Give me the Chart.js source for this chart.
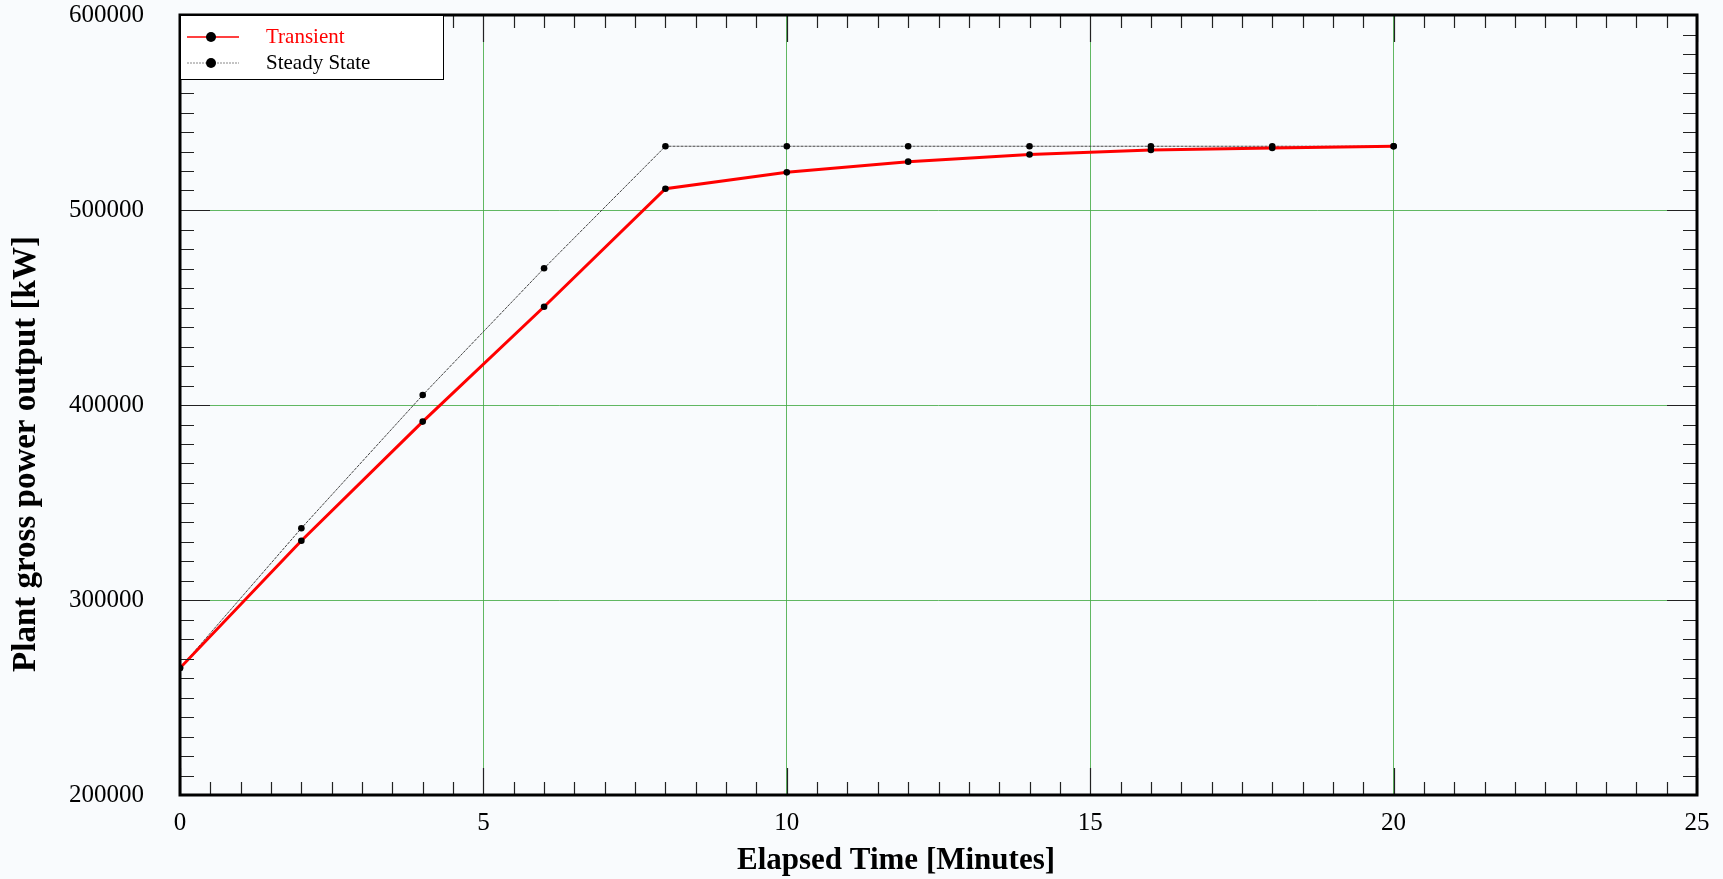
<!DOCTYPE html>
<html>
<head>
<meta charset="utf-8">
<script src="https://cdn.jsdelivr.net/npm/chart.js@4.4.1/dist/chart.umd.min.js"></script>
<style>
  html, body { margin: 0; padding: 0; background: #f9fbfd; }
  #wrap { width: 1723px; height: 879px; position: relative; }
</style>
</head>
<body>
<div id="wrap"><canvas id="powerChart"></canvas></div>
<script>
// Valores
const timeMin = [0, 2, 4, 6, 8, 10, 12, 14, 16, 18, 20];
const transientKW = [265100, 330400, 391500, 450400, 510900, 519300, 524800, 528500, 530800, 531800, 532700];
const steadyKW = [265100, 336800, 405100, 470100, 532700, 532700, 532700, 532700, 532700, 532700, 532700];

const xTicks = [0, 5, 10, 15, 20, 25];
const yTicks = [200000, 300000, 400000, 500000, 600000];

const seriesNames = ['Transient', 'Steady State'];
const xTitle = 'Elapsed Time [Minutes]';
const yTitle = 'Plant gross power output [kW]';

const SERIF = "'Liberation Serif', 'DejaVu Serif', serif";
const GRID_GREEN = 'rgba(70, 170, 70, 0.85)';

const toPoints = (ys) => timeMin.map((t, i) => ({ x: t, y: ys[i] }));

// Marco, marcas interiores, títulos y leyenda
const framePlugin = {
    id: 'frame',
    beforeDraw(chart) {
        const ctx = chart.ctx;
        ctx.save();
        ctx.fillStyle = '#f9fbfd';
        ctx.fillRect(0, 0, chart.width, chart.height);
        ctx.restore();
    },
    afterDraw(chart) {
        const ctx = chart.ctx;
        const area = chart.chartArea;
        const xs = chart.scales.x;
        const ys = chart.scales.y;
        ctx.save();

        // marcas menores y mayores en los cuatro lados
        ctx.strokeStyle = '#222';
        ctx.lineWidth = 1.2;
        ctx.beginPath();
        for (let v = 0; v <= 25.001; v += 0.5) {
            const px = Math.round(xs.getPixelForValue(v)) + 0.5;
            const len = (Math.abs(v % 5) < 0.01) ? 27 : 13;
            ctx.moveTo(px, area.bottom);
            ctx.lineTo(px, area.bottom - len);
            ctx.moveTo(px, area.top);
            ctx.lineTo(px, area.top + len);
        }
        for (let v = 200000; v <= 600000; v += 10000) {
            const py = Math.round(ys.getPixelForValue(v)) + 0.5;
            const len = (v % 100000 === 0) ? 30 : 14;
            ctx.moveTo(area.left, py);
            ctx.lineTo(area.left + len, py);
            ctx.moveTo(area.right, py);
            ctx.lineTo(area.right - len, py);
        }
        ctx.stroke();

        // borde grueso
        ctx.strokeStyle = '#000';
        ctx.lineWidth = 3;
        ctx.strokeRect(area.left, area.top, area.right - area.left, area.bottom - area.top);

        // títulos de los ejes
        ctx.fillStyle = '#000';
        ctx.font = 'bold 31px ' + SERIF;
        ctx.textAlign = 'center';
        ctx.textBaseline = 'middle';
        ctx.fillText(xTitle, 896, 861);
        ctx.save();
        ctx.translate(26, 454);
        ctx.rotate(-Math.PI / 2);
        ctx.font = 'bold 33px ' + SERIF;
        ctx.fillText(yTitle, 0, 0);
        ctx.restore();

        // leyenda
        const lx = area.left, ly = area.top;
        ctx.fillStyle = '#fff';
        ctx.fillRect(lx, ly, 263, 64);
        ctx.strokeStyle = '#000';
        ctx.lineWidth = 1;
        ctx.strokeRect(lx + 0.5, ly + 0.5, 263, 64);

        const rows = [
            { y: ly + 22, color: '#ff0000', text: '#ff0000', dash: [], width: 1.5 },
            { y: ly + 48, color: '#888', text: '#000', dash: [2, 1], width: 1 }
        ];
        rows.forEach((r, i) => {
            ctx.strokeStyle = r.color;
            ctx.lineWidth = r.width;
            ctx.setLineDash(r.dash);
            ctx.beginPath();
            ctx.moveTo(lx + 7, r.y);
            ctx.lineTo(lx + 59, r.y);
            ctx.stroke();
            ctx.setLineDash([]);
            ctx.fillStyle = '#000';
            ctx.beginPath();
            ctx.arc(lx + 31, r.y, 5, 0, Math.PI * 2);
            ctx.fill();
            ctx.fillStyle = r.text;
            ctx.font = '21px ' + SERIF;
            ctx.textAlign = 'left';
            ctx.textBaseline = 'middle';
            ctx.fillText(seriesNames[i], lx + 86, r.y);
        });

        ctx.restore();
    }
};

const ctx = document.getElementById('powerChart').getContext('2d');
new Chart(ctx, {
    type: 'line',
    data: {
        datasets: [
            {
                label: seriesNames[0],
                data: toPoints(transientKW),
                borderColor: '#ff0000',
                borderWidth: 3,
                pointBackgroundColor: '#000',
                pointBorderColor: '#000',
                pointRadius: 3.3,
                pointBorderWidth: 0,
                tension: 0,
                fill: false
            },
            {
                label: seriesNames[1],
                data: toPoints(steadyKW),
                borderColor: '#444',
                borderWidth: 1,
                borderDash: [3, 1],
                pointBackgroundColor: '#000',
                pointBorderColor: '#000',
                pointRadius: 3.3,
                pointBorderWidth: 0,
                tension: 0,
                fill: false
            }
        ]
    },
    options: {
        responsive: true,
        maintainAspectRatio: false,
        animation: false,
        layout: { padding: { top: 15, right: 26, left: 0, bottom: 0 } },
        plugins: {
            legend: { display: false },
            tooltip: { enabled: false }
        },
        scales: {
            x: {
                type: 'linear',
                min: 0,
                max: 25,
                afterBuildTicks: (scale) => { scale.ticks = xTicks.map(v => ({ value: v })); },
                afterFit: (scale) => {
                    scale.height = 84;
                    scale.paddingLeft = 0;
                    scale.paddingRight = 0;
                },
                border: { display: false },
                grid: {
                    drawTicks: false,
                    lineWidth: 1,
                    color: (c) => (c.tick && (c.tick.value === 0 || c.tick.value === 25)) ? 'rgba(0,0,0,0)' : GRID_GREEN
                },
                ticks: {
                    padding: 13,
                    color: '#000',
                    maxRotation: 0,
                    font: { family: SERIF, size: 25 },
                    callback: (v) => String(v)
                }
            },
            y: {
                type: 'linear',
                min: 200000,
                max: 600000,
                afterBuildTicks: (scale) => { scale.ticks = yTicks.map(v => ({ value: v })); },
                afterFit: (scale) => {
                    scale.width = 180;
                    scale.paddingTop = 0;
                    scale.paddingBottom = 0;
                },
                border: { display: false },
                grid: {
                    drawTicks: false,
                    lineWidth: 1,
                    color: (c) => (c.tick && (c.tick.value === 200000 || c.tick.value === 600000)) ? 'rgba(0,0,0,0)' : GRID_GREEN
                },
                ticks: {
                    padding: 36,
                    color: '#000',
                    font: { family: SERIF, size: 25 },
                    callback: (v) => String(v)
                }
            }
        }
    },
    plugins: [framePlugin]
});
</script>
</body>
</html>
